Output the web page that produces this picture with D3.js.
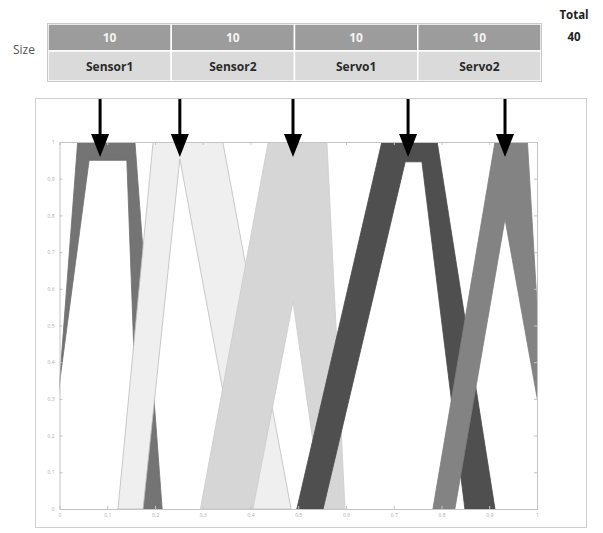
<!DOCTYPE html>
<html><head><meta charset="utf-8">
<script src="https://cdn.jsdelivr.net/npm/d3@7"></script>
<style>body{margin:0;background:#fff}svg{display:block}</style>
</head><body><svg id="c" width="603" height="533"></svg>
<script>
// ---- data ----
const components = ["Sensor1", "Sensor2", "Servo1", "Servo2"];
const sizes = [10, 10, 10, 10];
const arrowX = [0.085, 0.252, 0.489, 0.730, 0.933];
// upper membership functions (trapezoid feet/shoulders) and heights
const upperMF = [
  [-0.020, 0.038, 0.158, 0.215],
  [0.1225, 0.196, 0.342, 0.485],
  [0.295, 0.437, 0.560, 0.598],
  [0.497, 0.675, 0.791, 0.912],
  [0.782, 0.912, 0.980, 1.0255]
];
const upperH = [1, 1, 1, 1, 1];
// lower membership functions
const lowerMF = [
  [-0.035, 0.062, 0.141, 0.168],
  [0.175, 0.252, 0.252, 0.388],
  [0.405, 0.489, 0.489, 0.551],
  [0.552, 0.724, 0.759, 0.849],
  [0.828, 0.933, 0.933, 1.042]
];
const lowerH = [0.95, 0.954, 0.565, 0.946, 0.79];
const setFill = ["#747474", "#efefef", "#d6d6d6", "#4f4f4f", "#838383"];
const setStroke = ["#6e6e6e", "#bdbdbd", "#cbcbcb", "#4a4a4a", "#7d7d7d"];
const ticks = [0, 0.1, 0.2, 0.3, 0.4, 0.5, 0.6, 0.7, 0.8, 0.9, 1];

const svg = d3.select("#c");
const font = "'Open Sans', 'Liberation Sans', sans-serif";

// ---- table ----
const tx = d3.scaleBand().domain(components).range([48, 541]);
const rowTop = 24, rowMid = 51, rowBot = 81;
const tbl = svg.append("g");
tbl.selectAll("rect.sz").data(components).join("rect")
  .attr("x", d => tx(d)).attr("y", rowTop).attr("width", tx.bandwidth()).attr("height", rowMid - rowTop)
  .attr("fill", "#9c9c9c").attr("stroke", "#fff").attr("stroke-width", 1.5);
tbl.selectAll("rect.nm").data(components).join("rect")
  .attr("x", d => tx(d)).attr("y", rowMid).attr("width", tx.bandwidth()).attr("height", rowBot - rowMid)
  .attr("fill", "#dadada").attr("stroke", "#fff").attr("stroke-width", 1.5);
tbl.append("rect").attr("x", 47.5).attr("y", rowTop - 0.5).attr("width", 494).attr("height", rowBot - rowTop + 1)
  .attr("fill", "none").attr("stroke", "#c8c8c8");
tbl.selectAll("text.sz").data(components).join("text")
  .attr("x", d => tx(d) + tx.bandwidth() / 2).attr("y", (rowTop + rowMid) / 2 + 4.5)
  .attr("text-anchor", "middle").attr("font-family", font).attr("font-weight", "bold")
  .attr("font-size", 12).attr("fill", "#f4f4f4").text((d, i) => sizes[i]);
tbl.selectAll("text.nm").data(components).join("text")
  .attr("x", d => tx(d) + tx.bandwidth() / 2).attr("y", (rowMid + rowBot) / 2 + 4.5)
  .attr("text-anchor", "middle").attr("font-family", font).attr("font-weight", "bold")
  .attr("font-size", 12).attr("fill", "#2a2a2a").text(d => d);
svg.append("text").attr("x", 24).attr("y", 54).attr("text-anchor", "middle")
  .attr("font-family", font).attr("font-size", 12).attr("fill", "#555").text("Size");
svg.append("text").attr("x", 574).attr("y", 19).attr("text-anchor", "middle")
  .attr("font-family", font).attr("font-weight", "bold").attr("font-size", 11.5).attr("fill", "#222").text("Total");
svg.append("text").attr("x", 574).attr("y", 41).attr("text-anchor", "middle")
  .attr("font-family", font).attr("font-weight", "bold").attr("font-size", 11.5).attr("fill", "#222").text(d3.sum(sizes));

// ---- chart frame ----
svg.append("rect").attr("x", 35.5).attr("y", 98.5).attr("width", 551).attr("height", 429)
  .attr("fill", "#fff").attr("stroke", "#cfcfcf");

const x = d3.scaleLinear().domain([0, 1]).range([59.5, 537]);
const y = d3.scaleLinear().domain([0, 1]).range([509, 142]);

svg.append("clipPath").attr("id", "clip").append("rect")
  .attr("x", x(0)).attr("y", y(1)).attr("width", x(1) - x(0)).attr("height", y(0) - y(1));

const line = d3.line().x(d => x(d[0])).y(d => y(d[1]));
function band(i) {
  const u = upperMF[i], l = lowerMF[i], hu = upperH[i], hl = lowerH[i];
  const pts = [[u[0], 0], [u[1], hu], [u[2], hu], [u[3], 0],
               [l[3], 0], [l[2], hl], [l[1], hl], [l[0], 0]];
  return line(pts) + "Z";
}
const plot = svg.append("g").attr("clip-path", "url(#clip)");
plot.selectAll("path").data(d3.range(upperMF.length)).join("path")
  .attr("d", band).attr("fill", i => setFill[i]).attr("stroke", i => setStroke[i]).attr("stroke-width", 0.8);

// axes (light matlab-like box)
const axCol = "#c4c4c4";
const axL = d3.axisLeft(y).tickValues(ticks).tickSize(-3).tickPadding(5).tickFormat(d3.format("~g"));
const axB = d3.axisBottom(x).tickValues(ticks).tickSize(-3).tickPadding(4).tickFormat(d3.format("~g"));
const axR = d3.axisRight(y).tickValues(ticks).tickSize(-3).tickFormat("");
const axT = d3.axisTop(x).tickValues(ticks).tickSize(-3).tickFormat("");
function style(g) {
  g.selectAll("path,line").attr("stroke", axCol);
  g.selectAll("text").attr("fill", "#aaa").attr("font-size", 5).attr("font-family", font);
}
svg.append("g").attr("transform", `translate(${x(0)},0)`).call(axL).call(style);
svg.append("g").attr("transform", `translate(0,${y(0)})`).call(axB).call(style);
svg.append("g").attr("transform", `translate(${x(1)},0)`).call(axR).call(style);
svg.append("g").attr("transform", `translate(0,${y(1)})`).call(axT).call(style);

// ---- arrows ----
const ar = svg.append("g");
ar.selectAll("line").data(arrowX).join("line")
  .attr("x1", d => x(d)).attr("x2", d => x(d)).attr("y1", 99).attr("y2", 138)
  .attr("stroke", "#000").attr("stroke-width", 3);
ar.selectAll("path").data(arrowX).join("path")
  .attr("d", d => `M${x(d) - 9},${134}L${x(d) + 9},${134}L${x(d)},${157}Z`)
  .attr("fill", "#000");
</script></body></html>
